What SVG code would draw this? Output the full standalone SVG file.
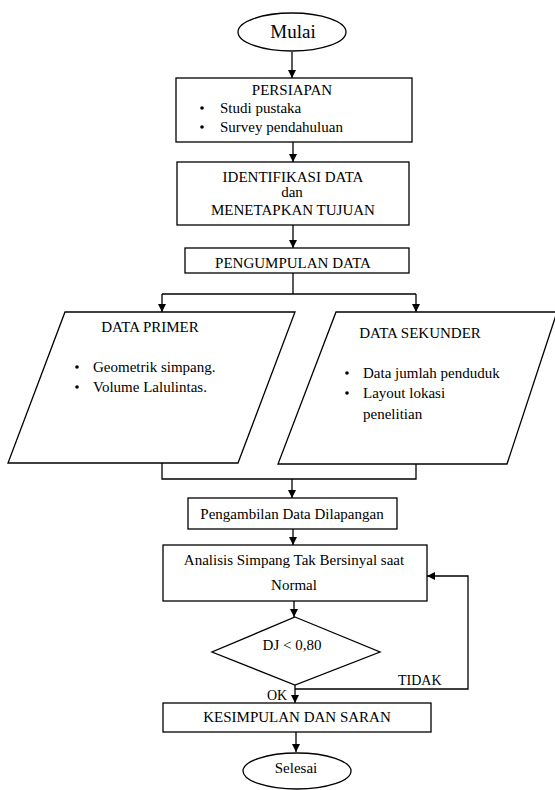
<svg xmlns="http://www.w3.org/2000/svg" width="555" height="790" viewBox="0 0 555 790">
<style>
.s{fill:#fff;stroke:#000;stroke-width:1.3}
.t{font-family:"Liberation Serif","Times New Roman",serif;font-size:15px;fill:#000}
.m{text-anchor:middle}
.c{fill:none;stroke:#000;stroke-width:1.3}
</style>
<defs>
<marker id="a" viewBox="0 0 10 10" refX="10" refY="5" markerWidth="8" markerHeight="8" markerUnits="userSpaceOnUse" orient="auto">
<path d="M0,0L10,5L0,10z" fill="#000"/>
</marker>
</defs>
<rect width="555" height="790" fill="#fff"/>
<g id="connectors">
<path class="c" d="M292,52V78" marker-end="url(#a)"/>
<path class="c" d="M293,142V162" marker-end="url(#a)"/>
<path class="c" d="M293,225V248" marker-end="url(#a)"/>
<path class="c" d="M293,273V294"/>
<path class="c" d="M162,294H416"/>
<path class="c" d="M162,294V312" marker-end="url(#a)"/>
<path class="c" d="M416,294V312" marker-end="url(#a)"/>
<path class="c" d="M162,463V479H416V464"/>
<path class="c" d="M292,479V498" marker-end="url(#a)"/>
<path class="c" d="M293,529V545" marker-end="url(#a)"/>
<path class="c" d="M294,601V617" marker-end="url(#a)"/>
<path class="c" d="M295,685V703" marker-end="url(#a)"/>
<path class="c" d="M295,689H468V576H427" marker-end="url(#a)"/>
<path class="c" d="M296,732V752" marker-end="url(#a)"/>
</g>
<g id="mulai">
<ellipse class="s" cx="292" cy="32" rx="54" ry="19"/>
<text class="t m" x="293" y="38" style="font-size:19px">Mulai</text>
</g>
<g id="persiapan">
<rect class="s" x="176" y="78" width="236" height="64"/>
<text class="t m" x="292" y="95">PERSIAPAN</text>
<circle cx="202" cy="108" r="1.8"/>
<circle cx="202" cy="127" r="1.8"/>
<text class="t" x="220" y="113">Studi pustaka</text>
<text class="t" x="220" y="132">Survey pendahuluan</text>
</g>
<g id="identifikasi">
<rect class="s" x="177" y="162" width="232" height="63"/>
<text class="t m" x="293" y="182">IDENTIFIKASI DATA</text>
<text class="t m" x="292" y="197">dan</text>
<text class="t m" x="293" y="215">MENETAPKAN TUJUAN</text>
</g>
<g id="pengumpulan">
<rect class="s" x="185" y="248" width="224" height="25"/>
<text class="t m" x="293" y="268">PENGUMPULAN DATA</text>
</g>
<g id="data-primer">
<path class="s" d="M65,312H295L238,463H8Z"/>
<text class="t m" x="150" y="332">DATA PRIMER</text>
<circle cx="77" cy="367" r="1.8"/>
<circle cx="77" cy="387" r="1.8"/>
<text class="t" x="93" y="372">Geometrik simpang.</text>
<text class="t" x="93" y="392">Volume Lalulintas.</text>
</g>
<g id="data-sekunder">
<path class="s" d="M336,312H557L507,464H278Z"/>
<text class="t m" x="420" y="338">DATA SEKUNDER</text>
<circle cx="347" cy="373" r="1.8"/>
<circle cx="347" cy="393" r="1.8"/>
<text class="t" x="363" y="378">Data jumlah penduduk</text>
<text class="t" x="363" y="398">Layout lokasi</text>
<text class="t" x="363" y="419">penelitian</text>
</g>
<g id="pengambilan">
<rect class="s" x="188" y="498" width="209" height="31"/>
<text class="t m" x="292" y="519">Pengambilan Data Dilapangan</text>
</g>
<g id="analisis">
<rect class="s" x="163" y="545" width="264" height="56"/>
<text class="t m" x="294" y="565">Analisis Simpang Tak Bersinyal saat</text>
<text class="t m" x="294" y="590">Normal</text>
</g>
<g id="keputusan">
<path class="s" d="M295,617L380,652L295,685L212,652Z"/>
<text class="t m" x="292" y="650">DJ &lt; 0,80</text>
<text class="t" x="398" y="685" style="font-size:14px">TIDAK</text>
<text class="t" x="267" y="700" style="font-size:14px">OK</text>
</g>
<g id="kesimpulan">
<rect class="s" x="163" y="703" width="268" height="29"/>
<text class="t m" x="297" y="722">KESIMPULAN DAN SARAN</text>
</g>
<g id="selesai">
<ellipse class="s" cx="297" cy="771" rx="54" ry="18"/>
<text class="t m" x="296" y="773">Selesai</text>
</g>
</svg>
